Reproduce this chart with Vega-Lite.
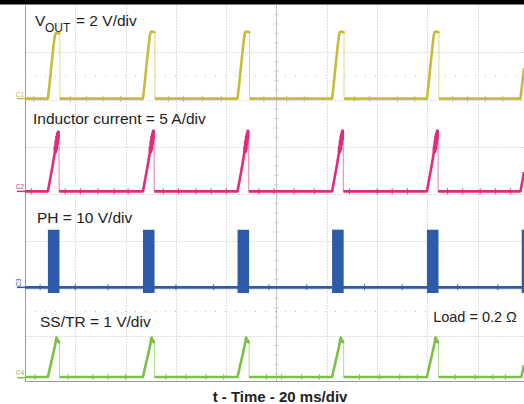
{
"$schema":"https://vega.github.io/schema/vega-lite/v6.json",
"width":499,"height":376,
"autosize":{"type":"none"},
"padding":{"left":25,"top":5,"right":0,"bottom":23},
"background":"white",
"config":{"view":{"stroke":null},"font":"Liberation Sans"},
"datasets":{
"traces":[
{"ch":"C3","s":"b0","t":0,"v":2.03},{"ch":"C3","s":"b0","t":198.4,"v":2.03},
{"ch":"C1","s":"y0","t":0,"v":6.02},{"ch":"C1","s":"y0","t":9.1,"v":6.02},{"ch":"C1","s":"y0","t":9.7,"v":6.3},{"ch":"C1","s":"y0","t":10.5,"v":6.72},{"ch":"C1","s":"y0","t":11.3,"v":7.12},{"ch":"C1","s":"y0","t":11.8,"v":7.33},{"ch":"C1","s":"y0","t":12.1,"v":7.39},{"ch":"C1","s":"y0","t":12.4,"v":7.41},{"ch":"C1","s":"y0","t":13.6,"v":7.40},{"ch":"C1","s":"y0","t":13.8,"v":7.38},
{"ch":"C1","s":"y1","t":13.85,"v":6.02},{"ch":"C1","s":"y1","t":46.9,"v":6.02},{"ch":"C1","s":"y1","t":47.5,"v":6.3},{"ch":"C1","s":"y1","t":48.3,"v":6.72},{"ch":"C1","s":"y1","t":49.1,"v":7.12},{"ch":"C1","s":"y1","t":49.6,"v":7.35},{"ch":"C1","s":"y1","t":49.9,"v":7.42},{"ch":"C1","s":"y1","t":50.2,"v":7.44},{"ch":"C1","s":"y1","t":51.4,"v":7.43},{"ch":"C1","s":"y1","t":51.6,"v":7.40},
{"ch":"C1","s":"y2","t":51.65,"v":6.02},{"ch":"C1","s":"y2","t":84.5,"v":6.02},{"ch":"C1","s":"y2","t":85.1,"v":6.3},{"ch":"C1","s":"y2","t":85.9,"v":6.72},{"ch":"C1","s":"y2","t":86.7,"v":7.12},{"ch":"C1","s":"y2","t":87.2,"v":7.35},{"ch":"C1","s":"y2","t":87.5,"v":7.42},{"ch":"C1","s":"y2","t":87.8,"v":7.44},{"ch":"C1","s":"y2","t":89.0,"v":7.43},{"ch":"C1","s":"y2","t":89.2,"v":7.40},
{"ch":"C1","s":"y3","t":89.25,"v":6.02},{"ch":"C1","s":"y3","t":122.1,"v":6.02},{"ch":"C1","s":"y3","t":122.7,"v":6.3},{"ch":"C1","s":"y3","t":123.5,"v":6.72},{"ch":"C1","s":"y3","t":124.3,"v":7.12},{"ch":"C1","s":"y3","t":124.8,"v":7.35},{"ch":"C1","s":"y3","t":125.1,"v":7.42},{"ch":"C1","s":"y3","t":125.4,"v":7.44},{"ch":"C1","s":"y3","t":126.6,"v":7.43},{"ch":"C1","s":"y3","t":126.8,"v":7.40},
{"ch":"C1","s":"y4","t":126.85,"v":6.02},{"ch":"C1","s":"y4","t":159.8,"v":6.02},{"ch":"C1","s":"y4","t":160.4,"v":6.3},{"ch":"C1","s":"y4","t":161.2,"v":6.72},{"ch":"C1","s":"y4","t":162.0,"v":7.12},{"ch":"C1","s":"y4","t":162.5,"v":7.35},{"ch":"C1","s":"y4","t":162.8,"v":7.42},{"ch":"C1","s":"y4","t":163.1,"v":7.44},{"ch":"C1","s":"y4","t":164.3,"v":7.43},{"ch":"C1","s":"y4","t":164.5,"v":7.40},
{"ch":"C1","s":"y5","t":164.55,"v":6.02},{"ch":"C1","s":"y5","t":197.0,"v":6.02},{"ch":"C1","s":"y5","t":197.6,"v":6.3},{"ch":"C1","s":"y5","t":198.4,"v":6.66},
{"ch":"C2","s":"p0","t":0,"v":4.06},{"ch":"C2","s":"p0","t":9.1,"v":4.06},{"ch":"C2","s":"p0","t":10.1,"v":4.35},{"ch":"C2","s":"p0","t":11.1,"v":4.64},{"ch":"C2","s":"p0","t":11.8,"v":4.87},{"ch":"C2","s":"p0","t":11.9,"v":5.0},{"ch":"C2","s":"p0","t":12.05,"v":4.88},{"ch":"C2","s":"p0","t":12.2,"v":5.12},{"ch":"C2","s":"p0","t":12.35,"v":4.9},{"ch":"C2","s":"p0","t":12.5,"v":5.22},{"ch":"C2","s":"p0","t":12.65,"v":4.95},{"ch":"C2","s":"p0","t":12.8,"v":5.28},{"ch":"C2","s":"p0","t":12.95,"v":5.05},{"ch":"C2","s":"p0","t":13.1,"v":5.32},{"ch":"C2","s":"p0","t":13.25,"v":5.15},{"ch":"C2","s":"p0","t":13.4,"v":5.32},{"ch":"C2","s":"p0","t":13.5,"v":5.31},
{"ch":"C2","s":"p1","t":13.55,"v":4.06},{"ch":"C2","s":"p1","t":46.9,"v":4.06},{"ch":"C2","s":"p1","t":47.9,"v":4.35},{"ch":"C2","s":"p1","t":48.9,"v":4.64},{"ch":"C2","s":"p1","t":49.6,"v":4.87},{"ch":"C2","s":"p1","t":49.7,"v":5.0},{"ch":"C2","s":"p1","t":49.85,"v":4.88},{"ch":"C2","s":"p1","t":50.0,"v":5.12},{"ch":"C2","s":"p1","t":50.15,"v":4.9},{"ch":"C2","s":"p1","t":50.3,"v":5.22},{"ch":"C2","s":"p1","t":50.45,"v":4.95},{"ch":"C2","s":"p1","t":50.6,"v":5.28},{"ch":"C2","s":"p1","t":50.75,"v":5.05},{"ch":"C2","s":"p1","t":50.9,"v":5.34},{"ch":"C2","s":"p1","t":51.05,"v":5.15},{"ch":"C2","s":"p1","t":51.2,"v":5.34},{"ch":"C2","s":"p1","t":51.3,"v":5.33},
{"ch":"C2","s":"p2","t":51.35,"v":4.06},{"ch":"C2","s":"p2","t":84.5,"v":4.06},{"ch":"C2","s":"p2","t":85.5,"v":4.35},{"ch":"C2","s":"p2","t":86.5,"v":4.64},{"ch":"C2","s":"p2","t":87.2,"v":4.87},{"ch":"C2","s":"p2","t":87.3,"v":5.0},{"ch":"C2","s":"p2","t":87.45,"v":4.88},{"ch":"C2","s":"p2","t":87.6,"v":5.12},{"ch":"C2","s":"p2","t":87.75,"v":4.9},{"ch":"C2","s":"p2","t":87.9,"v":5.22},{"ch":"C2","s":"p2","t":88.05,"v":4.95},{"ch":"C2","s":"p2","t":88.2,"v":5.28},{"ch":"C2","s":"p2","t":88.35,"v":5.05},{"ch":"C2","s":"p2","t":88.5,"v":5.34},{"ch":"C2","s":"p2","t":88.65,"v":5.15},{"ch":"C2","s":"p2","t":88.8,"v":5.34},{"ch":"C2","s":"p2","t":88.9,"v":5.33},
{"ch":"C2","s":"p3","t":88.95,"v":4.06},{"ch":"C2","s":"p3","t":122.1,"v":4.06},{"ch":"C2","s":"p3","t":123.1,"v":4.35},{"ch":"C2","s":"p3","t":124.1,"v":4.64},{"ch":"C2","s":"p3","t":124.8,"v":4.87},{"ch":"C2","s":"p3","t":124.9,"v":5.0},{"ch":"C2","s":"p3","t":125.05,"v":4.88},{"ch":"C2","s":"p3","t":125.2,"v":5.12},{"ch":"C2","s":"p3","t":125.35,"v":4.9},{"ch":"C2","s":"p3","t":125.5,"v":5.22},{"ch":"C2","s":"p3","t":125.65,"v":4.95},{"ch":"C2","s":"p3","t":125.8,"v":5.28},{"ch":"C2","s":"p3","t":125.95,"v":5.05},{"ch":"C2","s":"p3","t":126.1,"v":5.34},{"ch":"C2","s":"p3","t":126.25,"v":5.15},{"ch":"C2","s":"p3","t":126.4,"v":5.34},{"ch":"C2","s":"p3","t":126.5,"v":5.33},
{"ch":"C2","s":"p4","t":126.55,"v":4.06},{"ch":"C2","s":"p4","t":159.8,"v":4.06},{"ch":"C2","s":"p4","t":160.8,"v":4.35},{"ch":"C2","s":"p4","t":161.8,"v":4.64},{"ch":"C2","s":"p4","t":162.5,"v":4.87},{"ch":"C2","s":"p4","t":162.6,"v":5.0},{"ch":"C2","s":"p4","t":162.75,"v":4.88},{"ch":"C2","s":"p4","t":162.9,"v":5.12},{"ch":"C2","s":"p4","t":163.05,"v":4.9},{"ch":"C2","s":"p4","t":163.2,"v":5.22},{"ch":"C2","s":"p4","t":163.35,"v":4.95},{"ch":"C2","s":"p4","t":163.5,"v":5.28},{"ch":"C2","s":"p4","t":163.65,"v":5.05},{"ch":"C2","s":"p4","t":163.8,"v":5.34},{"ch":"C2","s":"p4","t":163.95,"v":5.15},{"ch":"C2","s":"p4","t":164.1,"v":5.34},{"ch":"C2","s":"p4","t":164.2,"v":5.33},
{"ch":"C2","s":"p5","t":164.25,"v":4.06},{"ch":"C2","s":"p5","t":197.0,"v":4.06},{"ch":"C2","s":"p5","t":198.0,"v":4.35},{"ch":"C2","s":"p5","t":198.4,"v":4.47},
{"ch":"C4","s":"g0","t":0,"v":0.135},{"ch":"C4","s":"g0","t":9.1,"v":0.135},{"ch":"C4","s":"g0","t":10.1,"v":0.37},{"ch":"C4","s":"g0","t":11.1,"v":0.6},{"ch":"C4","s":"g0","t":12.1,"v":0.84},{"ch":"C4","s":"g0","t":12.4,"v":0.95},{"ch":"C4","s":"g0","t":12.55,"v":0.97},{"ch":"C4","s":"g0","t":12.7,"v":0.9},{"ch":"C4","s":"g0","t":12.9,"v":0.93},{"ch":"C4","s":"g0","t":13.1,"v":0.88},{"ch":"C4","s":"g0","t":13.3,"v":0.9},{"ch":"C4","s":"g0","t":13.5,"v":0.87},{"ch":"C4","s":"g0","t":13.65,"v":0.88},
{"ch":"C4","s":"g1","t":13.7,"v":0.135},{"ch":"C4","s":"g1","t":46.9,"v":0.135},{"ch":"C4","s":"g1","t":47.9,"v":0.37},{"ch":"C4","s":"g1","t":48.9,"v":0.6},{"ch":"C4","s":"g1","t":49.9,"v":0.84},{"ch":"C4","s":"g1","t":50.2,"v":0.95},{"ch":"C4","s":"g1","t":50.35,"v":0.97},{"ch":"C4","s":"g1","t":50.5,"v":0.9},{"ch":"C4","s":"g1","t":50.7,"v":0.93},{"ch":"C4","s":"g1","t":50.9,"v":0.88},{"ch":"C4","s":"g1","t":51.1,"v":0.9},{"ch":"C4","s":"g1","t":51.3,"v":0.87},{"ch":"C4","s":"g1","t":51.45,"v":0.88},
{"ch":"C4","s":"g2","t":51.5,"v":0.135},{"ch":"C4","s":"g2","t":84.5,"v":0.135},{"ch":"C4","s":"g2","t":85.5,"v":0.37},{"ch":"C4","s":"g2","t":86.5,"v":0.6},{"ch":"C4","s":"g2","t":87.5,"v":0.84},{"ch":"C4","s":"g2","t":87.8,"v":0.95},{"ch":"C4","s":"g2","t":87.95,"v":0.97},{"ch":"C4","s":"g2","t":88.1,"v":0.9},{"ch":"C4","s":"g2","t":88.3,"v":0.93},{"ch":"C4","s":"g2","t":88.5,"v":0.88},{"ch":"C4","s":"g2","t":88.7,"v":0.9},{"ch":"C4","s":"g2","t":88.9,"v":0.87},{"ch":"C4","s":"g2","t":89.05,"v":0.88},
{"ch":"C4","s":"g3","t":89.1,"v":0.135},{"ch":"C4","s":"g3","t":122.1,"v":0.135},{"ch":"C4","s":"g3","t":123.1,"v":0.37},{"ch":"C4","s":"g3","t":124.1,"v":0.6},{"ch":"C4","s":"g3","t":125.1,"v":0.84},{"ch":"C4","s":"g3","t":125.4,"v":0.95},{"ch":"C4","s":"g3","t":125.55,"v":0.97},{"ch":"C4","s":"g3","t":125.7,"v":0.9},{"ch":"C4","s":"g3","t":125.9,"v":0.93},{"ch":"C4","s":"g3","t":126.1,"v":0.88},{"ch":"C4","s":"g3","t":126.3,"v":0.9},{"ch":"C4","s":"g3","t":126.5,"v":0.87},{"ch":"C4","s":"g3","t":126.65,"v":0.88},
{"ch":"C4","s":"g4","t":126.7,"v":0.135},{"ch":"C4","s":"g4","t":159.8,"v":0.135},{"ch":"C4","s":"g4","t":160.8,"v":0.37},{"ch":"C4","s":"g4","t":161.8,"v":0.6},{"ch":"C4","s":"g4","t":162.8,"v":0.84},{"ch":"C4","s":"g4","t":163.1,"v":0.95},{"ch":"C4","s":"g4","t":163.25,"v":0.97},{"ch":"C4","s":"g4","t":163.4,"v":0.9},{"ch":"C4","s":"g4","t":163.6,"v":0.93},{"ch":"C4","s":"g4","t":163.8,"v":0.88},{"ch":"C4","s":"g4","t":164.0,"v":0.9},{"ch":"C4","s":"g4","t":164.2,"v":0.87},{"ch":"C4","s":"g4","t":164.35,"v":0.88},
{"ch":"C4","s":"g5","t":164.4,"v":0.135},{"ch":"C4","s":"g5","t":197.3,"v":0.135},{"ch":"C4","s":"g5","t":198.4,"v":0.39}
],
"edges":[
{"ch":"C1","t":13.85,"v":7.38,"v2":6.02},{"ch":"C1","t":51.65,"v":7.40,"v2":6.02},{"ch":"C1","t":89.25,"v":7.40,"v2":6.02},{"ch":"C1","t":126.85,"v":7.40,"v2":6.02},{"ch":"C1","t":164.55,"v":7.40,"v2":6.02},
{"ch":"C2","t":13.55,"v":5.31,"v2":4.06},{"ch":"C2","t":51.35,"v":5.33,"v2":4.06},{"ch":"C2","t":88.95,"v":5.33,"v2":4.06},{"ch":"C2","t":126.55,"v":5.33,"v2":4.06},{"ch":"C2","t":164.25,"v":5.33,"v2":4.06},
{"ch":"C4","t":13.7,"v":0.88,"v2":0.135},{"ch":"C4","t":51.5,"v":0.88,"v2":0.135},{"ch":"C4","t":89.1,"v":0.88,"v2":0.135},{"ch":"C4","t":126.7,"v":0.88,"v2":0.135},{"ch":"C4","t":164.4,"v":0.88,"v2":0.135}
],
"bursts":[
{"ch":"C3","t":9.1,"t2":13.7,"v":1.91,"v2":3.25},{"ch":"C3","t":46.9,"t2":51.5,"v":1.91,"v2":3.25},{"ch":"C3","t":84.5,"t2":89.1,"v":1.91,"v2":3.25},{"ch":"C3","t":122.1,"t2":126.7,"v":1.91,"v2":3.25},{"ch":"C3","t":159.8,"t2":164.4,"v":1.91,"v2":3.25},{"ch":"C3","t":197.5,"t2":198.4,"v":1.91,"v2":3.25}
],
"noise":[
{"ch":"C1","t":3.5,"v":6.02},{"ch":"C1","t":18,"v":6.02},{"ch":"C1","t":24.5,"v":6.02},{"ch":"C1","t":31,"v":6.02},{"ch":"C1","t":38,"v":6.02},{"ch":"C1","t":57,"v":6.02},{"ch":"C1","t":63,"v":6.02},{"ch":"C1","t":70.5,"v":6.02},{"ch":"C1","t":78,"v":6.02},{"ch":"C1","t":95,"v":6.02},{"ch":"C1","t":104,"v":6.02},{"ch":"C1","t":111,"v":6.02},{"ch":"C1","t":131,"v":6.02},{"ch":"C1","t":137,"v":6.02},{"ch":"C1","t":148,"v":6.02},{"ch":"C1","t":155,"v":6.02},{"ch":"C1","t":170,"v":6.02},{"ch":"C1","t":176,"v":6.02},{"ch":"C1","t":183,"v":6.02},{"ch":"C1","t":190,"v":6.02},
{"ch":"C2","t":2.5,"v":4.06},{"ch":"C2","t":16,"v":4.06},{"ch":"C2","t":22,"v":4.06},{"ch":"C2","t":29,"v":4.06},{"ch":"C2","t":35.5,"v":4.06},{"ch":"C2","t":41,"v":4.06},{"ch":"C2","t":55,"v":4.06},{"ch":"C2","t":61,"v":4.06},{"ch":"C2","t":68,"v":4.06},{"ch":"C2","t":74,"v":4.06},{"ch":"C2","t":80,"v":4.06},{"ch":"C2","t":93,"v":4.06},{"ch":"C2","t":99,"v":4.06},{"ch":"C2","t":107,"v":4.06},{"ch":"C2","t":115,"v":4.06},{"ch":"C2","t":129,"v":4.06},{"ch":"C2","t":140,"v":4.06},{"ch":"C2","t":146,"v":4.06},{"ch":"C2","t":152,"v":4.06},{"ch":"C2","t":168,"v":4.06},{"ch":"C2","t":174,"v":4.06},{"ch":"C2","t":181,"v":4.06},{"ch":"C2","t":187,"v":4.06},{"ch":"C2","t":193,"v":4.06},
{"ch":"C3","t":6,"v":2.03},{"ch":"C3","t":20,"v":2.03},{"ch":"C3","t":33,"v":2.03},{"ch":"C3","t":60,"v":2.03},{"ch":"C3","t":75,"v":2.03},{"ch":"C3","t":97,"v":2.03},{"ch":"C3","t":112,"v":2.03},{"ch":"C3","t":135,"v":2.03},{"ch":"C3","t":150,"v":2.03},{"ch":"C3","t":172,"v":2.03},{"ch":"C3","t":188,"v":2.03},
{"ch":"C4","t":4,"v":0.135},{"ch":"C4","t":17,"v":0.135},{"ch":"C4","t":27,"v":0.135},{"ch":"C4","t":33,"v":0.135},{"ch":"C4","t":40,"v":0.135},{"ch":"C4","t":56,"v":0.135},{"ch":"C4","t":64,"v":0.135},{"ch":"C4","t":72,"v":0.135},{"ch":"C4","t":79,"v":0.135},{"ch":"C4","t":96,"v":0.135},{"ch":"C4","t":102,"v":0.135},{"ch":"C4","t":110,"v":0.135},{"ch":"C4","t":117,"v":0.135},{"ch":"C4","t":133,"v":0.135},{"ch":"C4","t":141,"v":0.135},{"ch":"C4","t":149,"v":0.135},{"ch":"C4","t":156,"v":0.135},{"ch":"C4","t":171,"v":0.135},{"ch":"C4","t":179,"v":0.135},{"ch":"C4","t":186,"v":0.135},{"ch":"C4","t":191,"v":0.135}
],
"cticks":[
{"t":100,"v":0.2},{"t":100,"v":0.4},{"t":100,"v":0.6},{"t":100,"v":0.8},{"t":100,"v":1.2},{"t":100,"v":1.4},{"t":100,"v":1.6},{"t":100,"v":1.8},{"t":100,"v":2.2},{"t":100,"v":2.4},{"t":100,"v":2.6},{"t":100,"v":2.8},{"t":100,"v":3.2},{"t":100,"v":3.4},{"t":100,"v":3.6},{"t":100,"v":3.8},{"t":100,"v":4.2},{"t":100,"v":4.4},{"t":100,"v":4.6},{"t":100,"v":4.8},{"t":100,"v":5.2},{"t":100,"v":5.4},{"t":100,"v":5.6},{"t":100,"v":5.8},{"t":100,"v":6.2},{"t":100,"v":6.4},{"t":100,"v":6.6},{"t":100,"v":6.8},{"t":100,"v":7.2},{"t":100,"v":7.4},{"t":100,"v":7.6},{"t":100,"v":7.8}
],
"guides":[{"t":0,"t2":198.4,"v":6.5},{"t":0,"t2":198.4,"v":1.52}],
"center":[{"t":100,"v":0.05,"v2":8}],
"frame":[{"t":-10,"t2":198.4,"v":8.011,"v2":8.11}],
"tagline":[
{"ch":"C1","t":-3.2,"t2":0,"v":6.02},{"ch":"C2","t":-3.2,"t2":0,"v":4.06},{"ch":"C3","t":-3.2,"t2":0,"v":2.03},{"ch":"C4","t":-3.2,"t2":0,"v":0.12}
],
"taglab":[
{"ch":"C1","t":-0.4,"v":6.065,"lab":"C1"},{"ch":"C2","t":-0.4,"v":4.105,"lab":"C2"},{"ch":"C4","t":-0.4,"v":0.17,"lab":"C4"}
],
"taglab3":[{"ch":"C3","t":-2.5,"v":2.133,"lab":"C3"}],
"labels":[
{"t":3.98,"v":7.556,"txt":"V"},
{"t":20.28,"v":7.556,"txt":"= 2 V/div"},
{"t":3.18,"v":5.474,"txt":"Inductor current = 5 A/div"},
{"t":4.77,"v":3.385,"txt":"PH = 10 V/div"},
{"t":5.96,"v":1.2,"txt":"SS/TR = 1 V/div"}
],
"sub":[{"t":7.95,"v":7.435,"txt":"OUT"}],
"load":[{"t":195.6,"v":1.3,"txt":"Load = 0.2 Ω"}]
},
"encoding":{
"x":{"field":"t","type":"quantitative","scale":{"domain":[0,198.4],"nice":false,"zero":false},
 "axis":{"title":"t - Time - 20 ms/div","titleFontSize":15,"titleFontWeight":"bold","titleColor":"#222222","titleX":254.5,"titleY":20.7,"titleBaseline":"alphabetic","titleAlign":"center","labels":false,"ticks":false,"domain":true,"domainColor":"#9a9a9a","grid":true,"values":[20,40,60,80,120,140,160,180],"gridColor":"#bdbdbd","gridDash":[1,2],"gridWidth":1}},
"y":{"field":"v","type":"quantitative","scale":{"domain":[0.05,8],"nice":false,"zero":false},
 "axis":{"title":null,"labels":false,"ticks":false,"domain":true,"domainColor":"#9a9a9a","grid":true,"values":[1,2,3,4,5,6,7],"gridColor":"#bdbdbd","gridDash":[1,2],"gridWidth":1}}
},
"layer":[
{"data":{"name":"guides"},"mark":{"type":"rule","color":"#b8b8b8","strokeDash":[1,9],"strokeWidth":1},"encoding":{"x2":{"field":"t2"}}},
{"data":{"name":"center"},"mark":{"type":"rule","color":"#c4c4c4","strokeWidth":1},"encoding":{"y2":{"field":"v2"}}},
{"data":{"name":"cticks"},"mark":{"type":"tick","orient":"horizontal","color":"#c4c4c4","size":5,"thickness":1},"encoding":{}},
{"data":{"name":"bursts"},"mark":{"type":"rect","color":"#2d5ba9"},"encoding":{"x2":{"field":"t2"},"y2":{"field":"v2"}}},
{"data":{"name":"traces"},"mark":{"type":"line","clip":true,"strokeJoin":"round"},
 "encoding":{"detail":{"field":"s","type":"nominal"},
  "color":{"field":"ch","type":"nominal","scale":{"domain":["C1","C2","C3","C4"],"range":["#c9bb38","#e5297c","#2d5ba9","#7bc147"]},"legend":null},
  "strokeWidth":{"field":"ch","type":"nominal","scale":{"domain":["C1","C2","C3","C4"],"range":[2.6,2.6,3.6,2.6]},"legend":null}}},
{"data":{"name":"noise"},"mark":{"type":"tick","orient":"vertical","size":6,"thickness":1,"opacity":0.9},
 "encoding":{"color":{"field":"ch","type":"nominal","legend":null}}},
{"data":{"name":"edges"},"mark":{"type":"rule","strokeWidth":1,"opacity":0.6},
 "encoding":{"y2":{"field":"v2"},"color":{"field":"ch","type":"nominal","legend":null}}},
{"data":{"name":"tagline"},"mark":{"type":"rule","strokeWidth":1.5},
 "encoding":{"x2":{"field":"t2"},"color":{"field":"ch","type":"nominal","legend":null}}},
{"data":{"name":"taglab"},"mark":{"type":"text","fontSize":6.5,"align":"right","baseline":"alphabetic"},
 "encoding":{"text":{"field":"lab"},"color":{"field":"ch","type":"nominal","legend":null}}},
{"data":{"name":"taglab3"},"mark":{"type":"text","fontSize":6.5,"align":"center","baseline":"middle","angle":270},
 "encoding":{"text":{"field":"lab"},"color":{"field":"ch","type":"nominal","legend":null}}},
{"data":{"name":"labels"},"mark":{"type":"text","fontSize":15.5,"align":"left","baseline":"alphabetic","color":"#222222"},
 "encoding":{"text":{"field":"txt"}}},
{"data":{"name":"sub"},"mark":{"type":"text","fontSize":12,"align":"left","baseline":"alphabetic","color":"#222222"},
 "encoding":{"text":{"field":"txt"}}},
{"data":{"name":"load"},"mark":{"type":"text","fontSize":14.5,"align":"right","baseline":"alphabetic","color":"#222222"},
 "encoding":{"text":{"field":"txt"}}},
{"data":{"name":"frame"},"mark":{"type":"rect","color":"#000000"},"encoding":{"x2":{"field":"t2"},"y2":{"field":"v2"}}}
]
}
